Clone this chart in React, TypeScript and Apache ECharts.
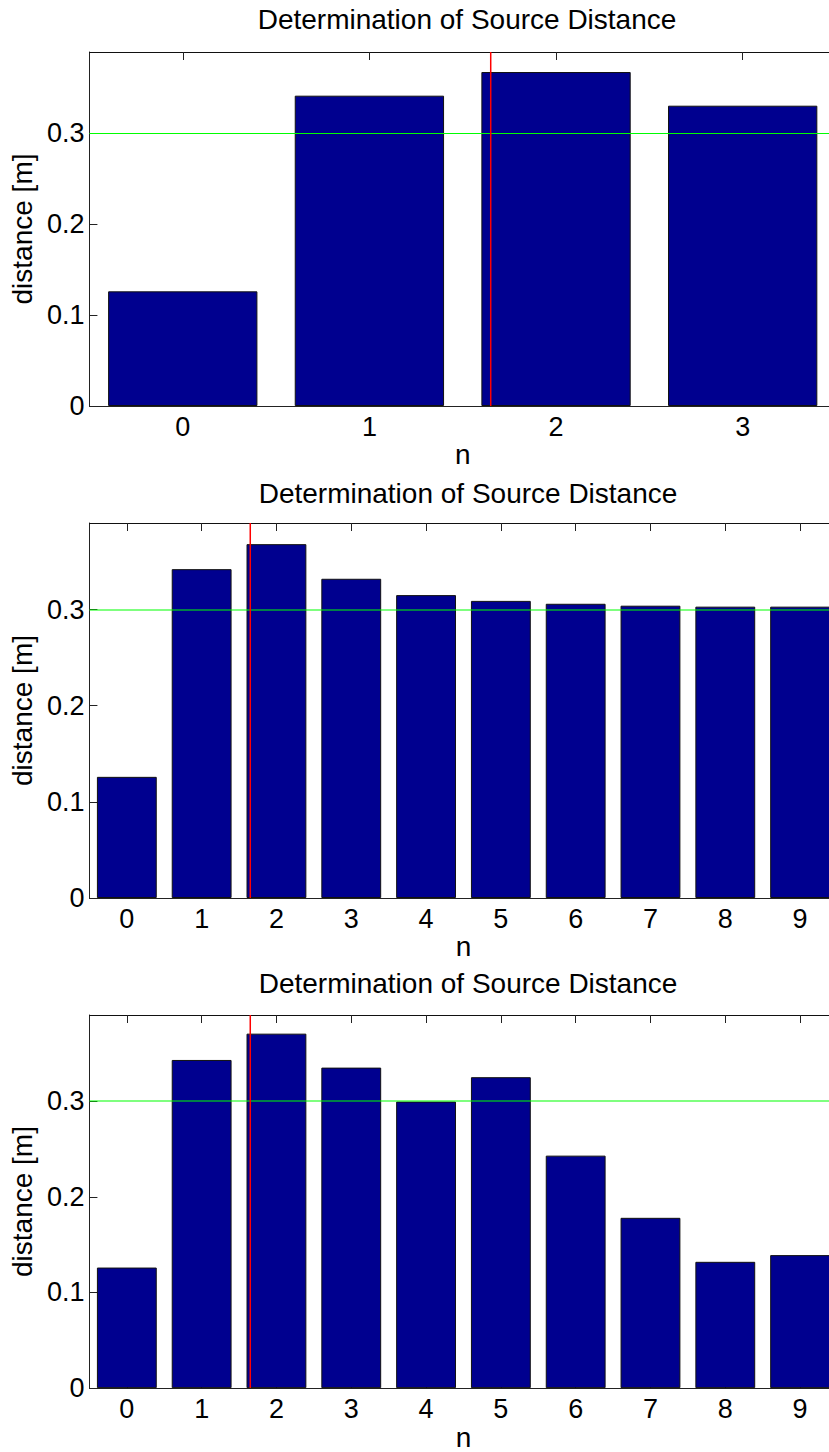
import React, { useEffect, useRef } from "react";
import * as echarts from "echarts";

const chartTitle = "Determination of Source Distance";
const xName = "n";
const yName = "distance [m]";

const categoriesTop = ["0", "1", "2", "3"];
const categoriesN = ["0", "1", "2", "3", "4", "5", "6", "7", "8", "9"];

const distTop = [0.126, 0.341, 0.367, 0.33];
const distMid = [0.126, 0.342, 0.368, 0.332, 0.315, 0.309, 0.306, 0.304, 0.303, 0.303];
const distBot = [0.126, 0.343, 0.3705, 0.335, 0.2995, 0.325, 0.243, 0.178, 0.132, 0.139];

const yMaxes = [0.389, 0.39, 0.39];
const thresholdY = 0.3;
const sourceX = 1.65;

const FONT = "Liberation Sans";

export default function App() {
  const ref = useRef<HTMLDivElement>(null);

  useEffect(() => {
    if (!ref.current) return;
    const chart = echarts.init(ref.current, undefined, { renderer: "svg" });

    const panels = [
      { cats: categoriesTop, vals: distTop, grid: { left: 88, top: 52, width: 748, height: 354 }, titleTop: 0, green: "#00ff00", greenW: 1 },
      { cats: categoriesN, vals: distMid, grid: { left: 88.5, top: 523, width: 749, height: 375 }, titleTop: 474, green: "rgba(0,255,0,0.5)", greenW: 2 },
      { cats: categoriesN, vals: distBot, grid: { left: 88.5, top: 1015, width: 749, height: 375 }, titleTop: 964, green: "rgba(0,255,0,0.5)", greenW: 2 },
    ];

    const grid: any[] = [];
    const xAxis: any[] = [];
    const yAxis: any[] = [];
    const series: any[] = [];
    const title: any[] = [];

    panels.forEach((p, g) => {
      grid.push({ ...p.grid, containLabel: false });
      title.push({
        text: chartTitle,
        left: p.grid.left + p.grid.width / 2,
        textAlign: "center",
        top: p.titleTop,
        textStyle: { fontFamily: FONT, fontSize: 28, fontWeight: "normal", color: "#000" },
      });
      // bottom category axis
      xAxis.push({
        type: "category",
        gridIndex: g,
        data: p.cats,
        position: "bottom",
        boundaryGap: true,
        name: xName,
        nameLocation: "middle",
        nameGap: 33,
        nameTextStyle: { fontFamily: FONT, fontSize: 28, color: "#000" },
        axisLine: { show: true, onZero: false, lineStyle: { color: "#222", width: 1 } },
        axisTick: { show: true, inside: true, length: 8, alignWithLabel: true, lineStyle: { color: "#222" } },
        axisLabel: { show: true, margin: 7, fontFamily: FONT, fontSize: 27, color: "#000" },
        splitLine: { show: false },
      });
      // top border axis
      xAxis.push({
        type: "category",
        gridIndex: g,
        data: p.cats,
        position: "top",
        boundaryGap: true,
        axisLine: { show: true, onZero: false, lineStyle: { color: "#111", width: 1 } },
        axisTick: { show: true, inside: true, length: 8, alignWithLabel: true, lineStyle: { color: "#222" } },
        axisLabel: { show: false },
        splitLine: { show: false },
      });
      // hidden value axis for the source marker line
      xAxis.push({
        type: "value",
        gridIndex: g,
        min: -0.5,
        max: p.cats.length - 0.5,
        show: false,
        axisLine: { onZero: false },
      });
      yAxis.push({
        type: "value",
        gridIndex: g,
        min: 0,
        max: yMaxes[g],
        interval: 0.1,
        name: yName,
        nameLocation: "middle",
        nameGap: 48,
        nameTextStyle: { fontFamily: FONT, fontSize: 28, color: "#000" },
        axisLine: { show: true, onZero: false, lineStyle: { color: "#222", width: 1 } },
        axisTick: { show: true, inside: true, length: 8, lineStyle: { color: "#222" } },
        axisLabel: { show: true, margin: 5, fontFamily: FONT, fontSize: 27, color: "#000", showMaxLabel: false },
        splitLine: { show: false },
      });
      series.push({
        type: "bar",
        xAxisIndex: g * 3,
        yAxisIndex: g,
        data: p.vals,
        barCategoryGap: "20%",
        itemStyle: { color: "#00008f", borderColor: "#111", borderWidth: 1 },
        z: 2,
        markLine: {
          silent: true,
          symbol: "none",
          label: { show: false },
          lineStyle: { color: p.green, width: p.greenW, type: "solid" },
          data: [{ yAxis: thresholdY }],
          z: 4,
        },
      });
      series.push({
        type: "line",
        xAxisIndex: g * 3 + 2,
        yAxisIndex: g,
        data: [
          [sourceX, 0],
          [sourceX, yMaxes[g]],
        ],
        symbol: "none",
        lineStyle: { color: "#ff0000", width: 1.5 },
        z: 5,
      });
    });

    chart.setOption({
      animation: false,
      backgroundColor: "#ffffff",
      title,
      grid,
      xAxis,
      yAxis,
      series,
    });

    return () => chart.dispose();
  }, []);

  return (
    <div style={{ position: "absolute", left: 0, top: 0, width: 829, height: 1452, overflow: "hidden" }}>
      <div ref={ref} style={{ width: 845, height: 1452 }} />
    </div>
  );
}
